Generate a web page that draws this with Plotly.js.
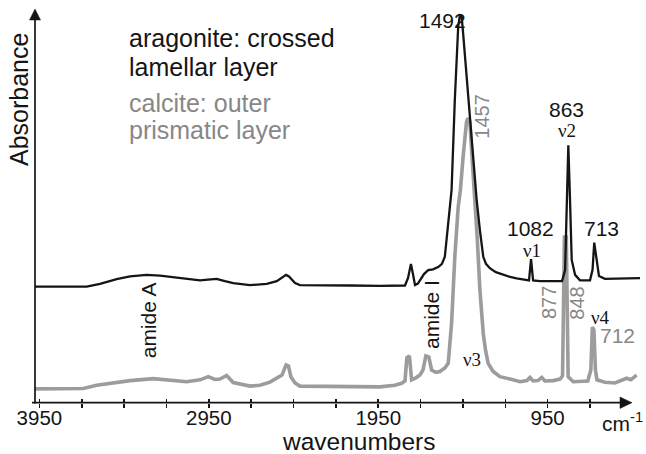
<!DOCTYPE html>
<html>
<head>
<meta charset="utf-8">
<script src="https://cdn.plot.ly/plotly-3.0.1.min.js"></script>
<style>html,body{margin:0;padding:0;background:#fff;}#chart{width:646px;height:454px;}</style>
</head>
<body>
<div id="chart"></div>
<script>
// Aragonite (crossed lamellar layer) spectrum, wavenumbers (cm-1) and absorbance (arb. units)
const aragoniteWn = [3976,3828,3671,3592,3494,3415,3317,3238,3160,3061,3002,2955,2904,2855,2806,2707,2608,2549,2512,2494,2477,2441,2412,2294,2117,1940,1822,1792,1774,1757,1745,1733,1716,1704,1680,1655,1627,1596,1574,1557,1537,1517,1498,1478,1468,1458,1449,1425,1409,1390,1369,1350,1330,1314,1291,1256,1212,1172,1133,1084,1060,1048,1036,995,936,865,847,837,828,818,808,788,759,700,685,675,661,647,612,523,464,405];
const aragoniteAbs = [29.6,29.6,29.6,30.3,31.5,32.2,32.6,32.4,32.0,31.4,31.2,31.4,31.6,31.0,30.5,30.0,30.3,31.0,32.1,32.6,32.2,30.5,30.0,29.9,29.9,29.8,29.8,29.9,31.8,35.4,32.8,30.0,30.4,31.1,32.8,33.8,34.0,34.6,35.4,37.2,45.8,54.2,77.1,95.8,98.7,98.5,94.1,81.3,72.9,62.7,51.7,44.0,37.2,35.4,34.3,33.3,32.6,32.1,31.7,31.3,31.2,36.6,31.2,31.0,31.0,31.0,33.8,51.7,65.6,51.7,36.4,32.6,31.2,31.2,33.9,40.8,36.0,32.3,31.6,31.7,31.9,31.8];

// Calcite (outer prismatic layer) spectrum
const calciteWn = [3976,3811,3691,3612,3494,3415,3278,3179,3081,3002,2953,2914,2884,2845,2806,2707,2648,2589,2549,2518,2494,2480,2465,2441,2412,2235,2147,2058,1940,1852,1812,1792,1781,1766,1753,1728,1704,1686,1669,1651,1635,1610,1586,1557,1537,1517,1498,1478,1465,1449,1429,1420,1409,1399,1380,1365,1350,1330,1317,1301,1273,1232,1172,1113,1072,1054,1036,1007,985,966,917,877,862,857,851,840,834,829,799,760,713,695,686,677,668,659,612,553,484,459,425];
const calciteAbs = [3.6,3.7,3.7,4.5,5.3,5.7,6.2,5.9,5.4,5.9,6.7,6.0,6.1,7.0,5.2,4.3,4.5,5.3,6.3,7.1,9.7,9.4,6.6,5.1,4.3,4.2,4.3,4.2,4.1,4.5,5.0,5.6,11.5,12.0,5.9,6.4,7.1,8.4,12.0,11.7,8.4,7.8,8.0,8.9,10.1,20.3,37.2,49.9,54.2,62.7,71.5,72.5,71.5,64.4,52.9,41.5,28.8,17.7,13.5,10.1,8.1,6.7,6.1,5.4,5.7,6.5,5.6,5.7,6.5,5.6,5.7,6.1,6.9,26.2,42.2,42.2,26.2,6.7,5.4,5.4,5.6,8.4,19.3,18.6,8.4,5.9,5.3,5.1,6.3,5.9,7.1];

// Axis ticks
const majorTicks = [3950,2950,1950,950];
const majorLabels = ['3950','2950','1950','950'];
const minorTicks = [3700,3450,3200,2700,2450,2200,1700,1450,1200,700];
const allTicks = [3950,3700,3450,3200,2950,2700,2450,2200,1950,1700,1450,1200,950,700];

const SANS = 'Liberation Sans, Arial, sans-serif';
const SERIF = 'Liberation Serif, Times New Roman, serif';
const BLACK = '#151515';
const GREY = '#878787';

// plot-area geometry (pixels)
const L = 35, R = 641, T = 10, B = 403;
function px(x){ return (x - L) / (R - L); }
function py(y){ return (B - y) / (B - T); }

function label(text, x, y, size, color, opts){
  return Object.assign({
    text: text, xref: 'paper', yref: 'paper', x: px(x), y: py(y),
    xanchor: 'center', yanchor: 'middle', showarrow: false,
    font: {family: SANS, size: size, color: color}
  }, opts || {});
}
function serif(text, x, y, size){
  return label(text, x, y, size, BLACK, {font: {family: SERIF, size: size, color: BLACK}});
}

const annotations = [
  label('aragonite: crossed', 126.7, 38.4, 25, BLACK, {xanchor: 'left'}),
  label('lamellar layer', 126.7, 66.7, 25, BLACK, {xanchor: 'left'}),
  label('calcite: outer', 126.7, 103.4, 25, GREY, {xanchor: 'left'}),
  label('prismatic layer', 126.7, 129.7, 25, GREY, {xanchor: 'left'}),
  label('Absorbance', 19, 100, 25, BLACK, {textangle: -90}),
  label('1492', 442, 20.8, 21, BLACK),
  label('1457', 481.7, 116, 20, GREY, {textangle: -90}),
  label('863', 566.7, 109.5, 21, BLACK),
  serif('\u03bd2', 566.7, 130, 19),
  label('1082', 530.7, 228.5, 21, BLACK),
  serif('\u03bd1', 532, 250, 19),
  label('713', 601.7, 229, 21, BLACK),
  label('amide A', 148.3, 320, 21, BLACK, {textangle: -90}),
  label('amide I', 431, 315, 21, BLACK, {textangle: -90}),
  serif('\u03bd3', 471.7, 359, 19),
  label('877', 549, 303, 20, GREY, {textangle: -90}),
  label('848', 576.7, 303, 20, GREY, {textangle: -90}),
  serif('\u03bd4', 600, 317, 19),
  label('712', 617.5, 335.5, 21, GREY),
  label('wavenumbers', 359, 441, 24.5, BLACK),
  label('cm<sup>-1</sup>', 600, 422, 21, BLACK, {xanchor: 'left'})
];

// axis lines with arrowheads
const shapes = [
  {type: 'line', xref: 'paper', yref: 'paper', x0: px(32), x1: px(624), y0: py(402.7), y1: py(402.7),
   line: {color: BLACK, width: 1.7}},
  {type: 'path', xref: 'paper', yref: 'paper',
   path: 'M' + px(632) + ',' + py(402.7) + ' L' + px(620) + ',' + py(397) + ' L' + px(620) + ',' + py(408.4) + ' Z',
   fillcolor: BLACK, line: {color: BLACK, width: 0.5}},
  {type: 'line', xref: 'paper', yref: 'paper', x0: px(35), x1: px(35), y0: py(403.5), y1: py(18),
   line: {color: BLACK, width: 1.7}},
  {type: 'path', xref: 'paper', yref: 'paper',
   path: 'M' + px(35) + ',' + py(9) + ' L' + px(29.5) + ',' + py(20) + ' L' + px(40.5) + ',' + py(20) + ' Z',
   fillcolor: BLACK, line: {color: BLACK, width: 0.5}}
];

const traces = [
  {x: calciteWn, y: calciteAbs, type: 'scatter', mode: 'lines', name: 'calcite',
   line: {color: '#9c9c9c', width: 3.6}, hoverinfo: 'skip'},
  {x: aragoniteWn, y: aragoniteAbs, type: 'scatter', mode: 'lines', name: 'aragonite',
   line: {color: BLACK, width: 2.3}, hoverinfo: 'skip'},
  {x: [], y: [], xaxis: 'x2', yaxis: 'y', type: 'scatter', mode: 'lines', hoverinfo: 'skip', showlegend: false}
];

const layout = {
  width: 646, height: 454,
  margin: {l: L, r: 646 - R, t: T, b: 454 - B},
  paper_bgcolor: '#ffffff', plot_bgcolor: '#ffffff',
  showlegend: false,
  xaxis: {
    range: [3976, 399], autorange: false,
    showgrid: false, zeroline: false, showline: false,
    tickmode: 'array', tickvals: majorTicks, ticktext: majorLabels,
    ticks: 'inside', ticklen: 4, tickwidth: 1.5, tickcolor: BLACK,
    ticklabelstandoff: 0,
    tickfont: {family: SANS, size: 20.5, color: BLACK},
    minor: {tickmode: 'array', tickvals: minorTicks, ticks: 'inside', ticklen: 4, tickwidth: 1.5, tickcolor: BLACK, showgrid: false}
  },
  xaxis2: {
    matches: 'x', overlaying: 'x', anchor: 'y', side: 'bottom',
    showgrid: false, zeroline: false, showline: false,
    tickmode: 'array', tickvals: allTicks, showticklabels: false,
    ticks: 'outside', ticklen: 4, tickwidth: 1.5, tickcolor: BLACK
  },
  yaxis: {
    range: [0, 100], autorange: false,
    showgrid: false, zeroline: false, showline: false,
    showticklabels: false, ticks: ''
  },
  shapes: shapes,
  annotations: annotations
};

Plotly.newPlot('chart', traces, layout, {staticPlot: true, displayModeBar: false});
</script>
</body>
</html>
